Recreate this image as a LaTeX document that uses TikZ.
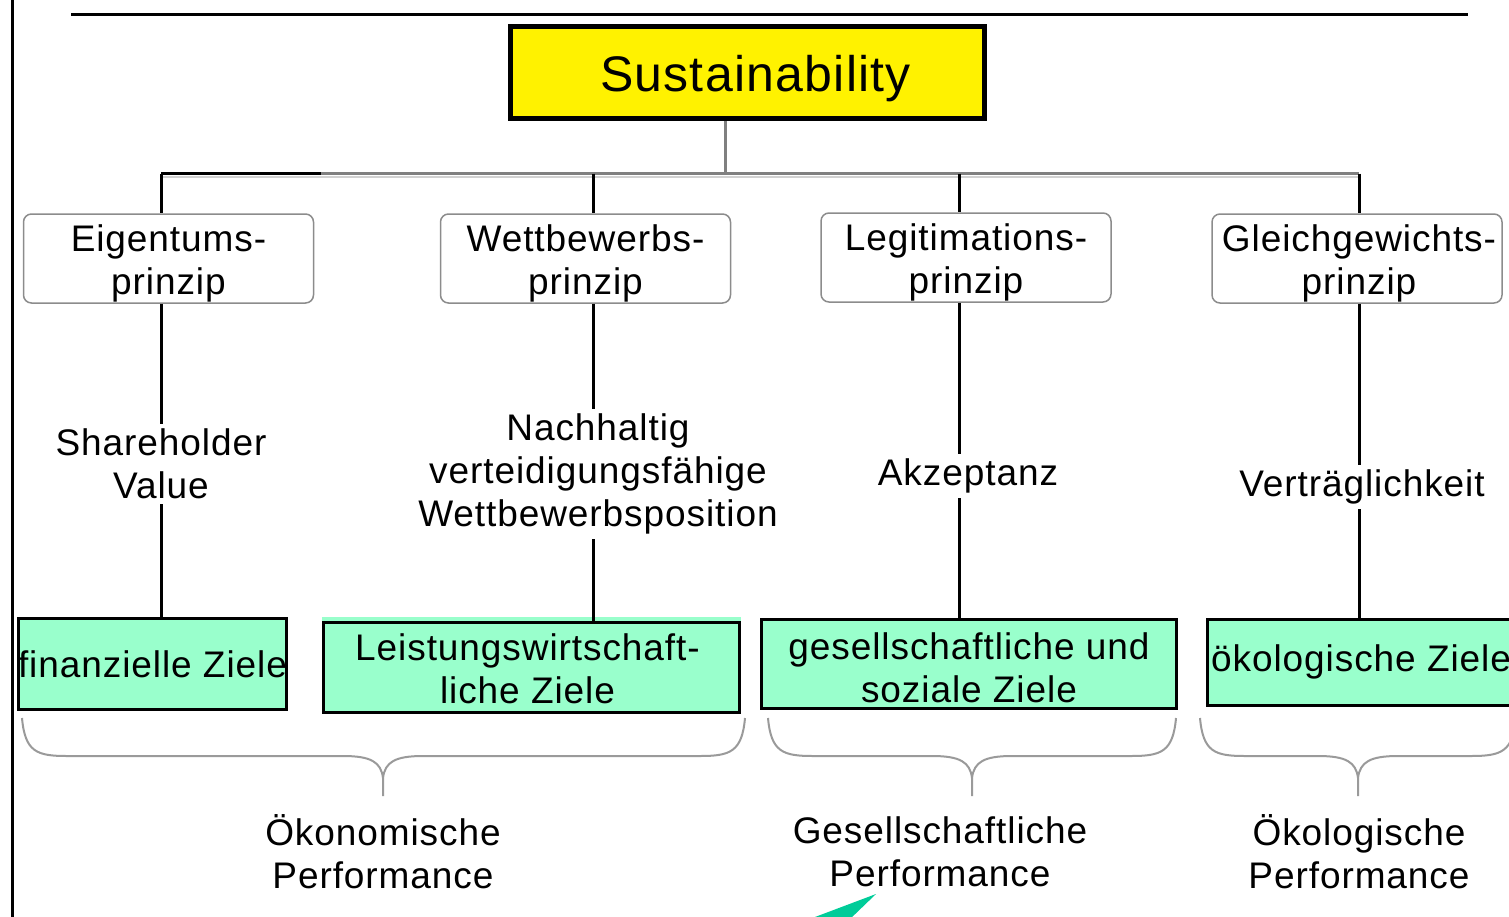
\documentclass[tikz,border=0pt]{standalone}
\usepackage{fontspec}
\setmainfont{Liberation Sans}[LetterSpace=2.5]
\definecolor{mint}{HTML}{99FFCC}
\definecolor{tealtri}{HTML}{00CC99}
\definecolor{boxgray}{HTML}{8C8C8C}
\definecolor{bracegray}{HTML}{9A9A9A}
\newcommand{\drawbrace}[3]{%
  \draw[bracestyle] (#1,718) .. controls (#1+3,752) and (#1+15,756) .. (#1+45,756) -- (#2-40,756) .. controls (#2-12,756) and (#2-2,762) .. (#2,778) -- (#2,796);
  \draw[bracestyle] (#3,718) .. controls (#3-3,752) and (#3-15,756) .. (#3-45,756) -- (#2+40,756) .. controls (#2+12,756) and (#2+2,762) .. (#2,778);}
\tikzset{
  txt/.style={font={\fontsize{37}{43}\selectfont}, align=center, text=black, inner sep=0pt},
  sustain/.style={draw=black, line width=5pt, fill=yellow, minimum width=474pt, minimum height=92pt, inner sep=0pt},
  principle/.style={draw=boxgray, line width=1.5pt, rounded corners=8pt, fill=white, minimum width=290pt, minimum height=89pt, inner sep=0pt},
  goal/.style={draw=black, line width=3pt, fill=mint, minimum height=90pt, inner sep=0pt},
  midlabel/.style={txt, inner sep=5pt},
  conn/.style={draw=black, line width=3pt},
  busgray/.style={draw=gray, line width=3pt},
  busshadow/.style={draw=black!18, line width=2.5pt},
  bracestyle/.style={draw=bracegray, line width=2pt},
  frameline/.style={draw=black, line width=3pt}
}
\begin{document}
\begin{tikzpicture}[x=1pt,y=-1pt]
\useasboundingbox (0,0) rectangle (1509,916);
% frame lines
\draw[frameline] (12.5,-5) -- (12.5,921);
\draw[frameline] (71,14.5) -- (1468,14.5);
% top box
\node[sustain] (sus) at (747.5,72.5) {};
\node[txt, font={\fontsize{50}{56}\selectfont}, yshift=-6pt, xshift=8pt] (sust) at (sus) {Sustainability};
% bus
\coordinate (b1) at (161,173.5);
\coordinate (b2) at (593,173.5);
\coordinate (b3) at (959,173.5);
\coordinate (b4) at (1359,173.5);
\coordinate (bt) at (725,173.5);
\coordinate (bk) at (321,173.5);
\draw[busshadow] (161,177) -- (1359,177);
\draw[busgray] (b1) -- (b4);
\draw[conn] (b1) -- (bk);
\draw[busgray] (sus.south -| bt) -- (bt);
% principle boxes
\node[principle] (p1) at (168.5,258.5) {};
\node[principle] (p2) at (585.5,258.5) {};
\node[principle] (p3) at (966,257.5) {};
\node[principle] (p4) at (1357,258.5) {};
\node[txt, yshift=-5pt] (p1t) at (p1) {Eigentums-\\prinzip};
\node[txt, yshift=-5pt] (p2t) at (p2) {Wettbewerbs-\\prinzip};
\node[txt, yshift=-5pt] (p3t) at (p3) {Legitimations-\\prinzip};
\node[txt, yshift=-5pt, xshift=2pt] (p4t) at (p4) {Gleichgewichts-\\prinzip};
\draw[conn] (b1) -- (b1 |- p1.north);
\draw[conn] (b2) -- (b2 |- p2.north);
\draw[conn] (b3) -- (b3 |- p3.north);
\draw[conn] (b4) -- (b4 |- p4.north);
% goal boxes
\fill[mint] (322,617) rectangle (741,623);
\node[goal, minimum width=268pt, minimum height=91pt] (g1) at (152.5,664) {};
\node[goal, minimum width=416pt] (g2) at (531.5,667.5) {};
\node[goal, minimum width=415pt, minimum height=89pt] (g3) at (969,664) {};
\node[goal, minimum width=325pt, minimum height=86pt, anchor=west] (g4) at (1205.5,662.5) {};
\node[txt] (g1t) at (g1) {finanzielle Ziele};
\node[txt, yshift=-1pt, xshift=-4pt] (g2t) at (g2) {Leistungswirtschaft-\\liche Ziele};
\node[txt, yshift=-4pt] (g3t) at (g3) {gesellschaftliche und\\soziale Ziele};
\node[txt, anchor=west] (g4t) at (1211,662) {ökologische Ziele};
% middle labels
\node[midlabel] (l1) at (161,464) {Shareholder\\Value};
\node[midlabel] (l2) at (598,474) {Nachhaltig\\verteidigungsfähige\\Wettbewerbsposition};
\node[midlabel] (l3) at (968,476) {Akzeptanz};
\node[midlabel] (l4) at (1362,487) {Verträglichkeit};
\draw[conn] (p1.south -| b1) -- (l1.north -| b1);
\draw[conn] (l1.south -| b1) -- (g1.north -| b1);
\draw[conn] (p2.south -| b2) -- (l2.north -| b2);
\draw[conn] (l2.south -| b2) -- (g2.north -| b2);
\draw[conn] (p3.south -| b3) -- (l3.north -| b3);
\draw[conn] (l3.south -| b3) -- (g3.north -| b3);
\draw[conn] (p4.south -| b4) -- (l4.north -| b4);
\draw[conn] (l4.south -| b4) -- (g4.north -| b4);
% braces
\drawbrace{22}{383}{745}
\drawbrace{768}{972}{1176}
\drawbrace{1200}{1358}{1516}
% bottom labels
\node[txt] (e1) at (383,852) {Ökonomische\\Performance};
\node[txt] (e2) at (940,852) {Gesellschaftliche\\Performance};
\node[txt] (e3) at (1359,852) {Ökologische\\Performance};
% teal pointer
\fill[tealtri] (876,894) -- (807,920) -- (849,920) -- cycle;
\end{tikzpicture}
\end{document}
